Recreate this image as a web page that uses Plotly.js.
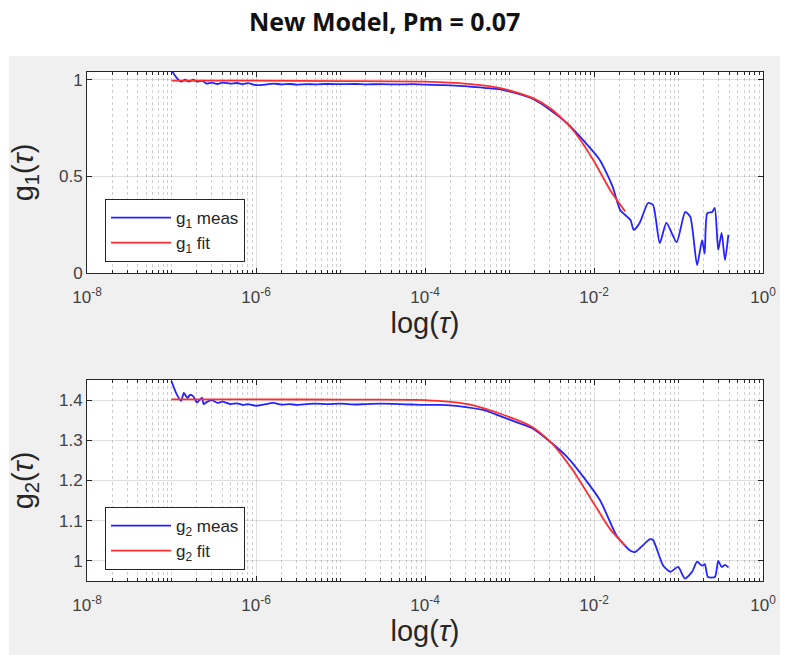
<!DOCTYPE html>
<html>
<head>
<meta charset="utf-8">
<script src="https://cdn.plot.ly/plotly-3.0.1.min.js"></script>
<style>html,body{margin:0;padding:0;background:#fff;}#chart{width:785px;height:655px;}</style>
</head>
<body>
<div id="chart"></div>
<script>
// ---- data ----
var tauMeas1 = [1.0e-7,1.15e-7,1.3e-7,1.45e-7,1.6e-7,1.8e-7,2.0e-7,2.3e-7,2.6e-7,3.0e-7,3.5e-7,4.0e-7,5e-7,6e-7,7e-7,8e-7,1e-6,1.3e-6,1.6e-6,2e-6,2.5e-6,3e-6,4e-6,5e-6,7e-6,1e-5,1.5e-5,2e-5,3e-5,5e-5,7e-5,1e-4,1.5e-4,2e-4,3.2e-4,5e-4,7.8e-4,1.2e-3,1.9e-3,3e-3,4.8e-3,7e-3,1.17e-2,1.66e-2,2.04e-2,2.7e-2,2.95e-2,3.47e-2,4.37e-2,5e-2,6.0e-2,7.2e-2,9.5e-2,0.12,0.138,0.166,0.19,0.204,0.219,0.251,0.269,0.295,0.324,0.355,0.389];
var g1Meas = [1.05,1.01,0.99,1.0,0.99,1.0,0.99,0.995,0.98,0.985,0.978,0.985,0.98,0.983,0.977,0.982,0.972,0.975,0.98,0.976,0.978,0.975,0.977,0.976,0.978,0.977,0.978,0.976,0.977,0.976,0.977,0.975,0.972,0.971,0.966,0.958,0.95,0.93,0.9,0.845,0.775,0.7,0.585,0.447,0.326,0.274,0.223,0.259,0.362,0.352,0.155,0.259,0.16,0.316,0.29,0.04,0.17,0.10,0.31,0.316,0.337,0.12,0.207,0.067,0.197];

var tauFit = [1e-7,1e-6,1e-5,1e-4,3.2e-4,7.8e-4,1.9e-3,3.2e-3,5.6e-3,9.8e-3,1.55e-2,2.34e-2];
var g1Fit = [0.995,0.995,0.993,0.99,0.979,0.957,0.905,0.845,0.741,0.585,0.43,0.318];

var tauMeas2 = [1.0e-7,1.15e-7,1.3e-7,1.4e-7,1.55e-7,1.65e-7,1.8e-7,2.0e-7,2.3e-7,2.4e-7,2.6e-7,3e-7,3.5e-7,4e-7,5e-7,6e-7,7e-7,8e-7,1e-6,1.3e-6,1.6e-6,2e-6,2.5e-6,3e-6,4e-6,5e-6,7e-6,1e-5,1.5e-5,2e-5,3e-5,5e-5,7e-5,1e-4,1.5e-4,2e-4,3.2e-4,5e-4,7.8e-4,1.2e-3,1.9e-3,4.8e-3,1.17e-2,1.86e-2,2.7e-2,3.05e-2,4.6e-2,5e-2,6.6e-2,8.0e-2,9.9e-2,0.119,0.145,0.166,0.19,0.205,0.223,0.27,0.295,0.324,0.355,0.39];
var g2Meas = [1.447,1.415,1.398,1.418,1.405,1.413,1.41,1.394,1.406,1.39,1.395,1.40,1.393,1.396,1.39,1.392,1.388,1.39,1.386,1.39,1.393,1.389,1.39,1.388,1.39,1.391,1.39,1.391,1.389,1.39,1.391,1.39,1.389,1.388,1.388,1.387,1.382,1.375,1.36,1.345,1.329,1.259,1.152,1.062,1.025,1.022,1.054,1.052,0.988,0.973,0.985,0.956,0.973,0.998,0.988,0.992,0.96,0.96,1.0,0.985,0.99,0.984];

var g2Fit = [1.402,1.402,1.401,1.40,1.39,1.366,1.332,1.292,1.226,1.145,1.079,1.038];

var xTickVals = [1e-8,1e-6,1e-4,1e-2,1];
var xTickText = ['10<sup>-8</sup>','10<sup>-6</sup>','10<sup>-4</sup>','10<sup>-2</sup>','10<sup>0</sup>'];
var y1TickVals = [0,0.5,1];
var y1TickText = ['0','0.5','1'];
var y2TickVals = [1,1.1,1.2,1.3,1.4];
var y2TickText = ['1','1.1','1.2','1.3','1.4'];

// ---- styling ----
var BLUE = 'rgb(35,35,255)';
var RED = 'rgb(255,45,45)';
var minorVals = [];
for (var e = -8; e < 0; e++) {
  for (var m = 1; m <= 9; m++) {
    var v = m * Math.pow(10, e);
    if (m === 1 && (e % 2 === 0)) continue;
    minorVals.push(v);
  }
}
var FONT = 'Liberation Sans, Arial, sans-serif';

var axisCommon = {
  showline: true, linecolor: '#262626', linewidth: 1, mirror: 'ticks',
  ticks: 'inside', ticklen: 5, tickcolor: '#262626',
  gridcolor: 'rgba(38,38,38,0.15)', gridwidth: 1,
  zeroline: false,
  tickfont: {family: FONT, size: 17, color: '#404040'}
};

function xAxis(anchor) {
  return Object.assign({}, axisCommon, {
    type: 'log', range: [-8, 0], anchor: anchor,
    tickmode: 'array', tickvals: xTickVals, ticktext: xTickText,
    ticklabelstandoff: 9,
    minor: {tickmode: 'array', tickvals: minorVals, ticks: 'inside', ticklen: 3, tickcolor: '#262626',
            showgrid: true, griddash: 'dot', gridcolor: 'rgba(38,38,38,0.22)', gridwidth: 1},
    title: {text: 'log(<i>τ</i>)', font: {family: FONT, size: 29, color: '#262626'}, standoff: 0}
  });
}

var traces = [
  {x: tauMeas1, y: g1Meas, xaxis: 'x', yaxis: 'y', mode: 'lines', name: 'g<sub>1</sub> meas',
   line: {color: BLUE, width: 1.8, shape: 'spline', smoothing: 0.6}, legend: 'legend'},
  {x: tauFit, y: g1Fit, xaxis: 'x', yaxis: 'y', mode: 'lines', name: 'g<sub>1</sub> fit',
   line: {color: RED, width: 1.8, shape: 'spline', smoothing: 0.6}, legend: 'legend'},
  {x: tauMeas2, y: g2Meas, xaxis: 'x2', yaxis: 'y2', mode: 'lines', name: 'g<sub>2</sub> meas',
   line: {color: BLUE, width: 1.8, shape: 'spline', smoothing: 0.6}, legend: 'legend2'},
  {x: tauFit, y: g2Fit, xaxis: 'x2', yaxis: 'y2', mode: 'lines', name: 'g<sub>2</sub> fit',
   line: {color: RED, width: 1.8, shape: 'spline', smoothing: 0.6}, legend: 'legend2'}
];

var legendCommon = {
  bgcolor: 'white', bordercolor: '#262626', borderwidth: 1,
  font: {family: FONT, size: 17, color: '#262626'},
  xref: 'paper', yref: 'paper', xanchor: 'left', yanchor: 'bottom',
  itemwidth: 60, tracegroupgap: 0
};

var layout = {
  width: 785, height: 655,
  margin: {l: 87, r: 22, t: 72, b: 74},
  paper_bgcolor: 'white', plot_bgcolor: 'rgba(0,0,0,0)',
  showlegend: true,
  title: {text: '<b>New Model, Pm = 0.07</b>', x: 0.49, xref: 'container', xanchor: 'center',
          y: 0.966, yref: 'container', yanchor: 'middle',
          font: {family: 'Open Sans, sans-serif', size: 25, color: '#111'}},
  xaxis: xAxis('y'),
  xaxis2: xAxis('y2'),
  yaxis: Object.assign({}, axisCommon, {domain: [0.6051, 1], range: [0, 1.04], anchor: 'x',
    tickmode: 'array', tickvals: y1TickVals, ticktext: y1TickText,
    title: {text: 'g<sub>1</sub>(<i>τ</i>)', font: {family: FONT, size: 29, color: '#262626'}, standoff: 16}}),
  yaxis2: Object.assign({}, axisCommon, {domain: [0, 0.3949], range: [0.95, 1.45], anchor: 'x2',
    tickmode: 'array', tickvals: y2TickVals, ticktext: y2TickText,
    title: {text: 'g<sub>2</sub>(<i>τ</i>)', font: {family: FONT, size: 29, color: '#262626'}, standoff: 16}}),
  legend: Object.assign({}, legendCommon, {x: 0.0266, y: 0.6267}),
  legend2: Object.assign({}, legendCommon, {x: 0.0266, y: 0.0216}),
  shapes: [
    {type: 'rect', xref: 'paper', yref: 'paper', x0: -0.1154, x1: 1.0251, y0: -0.1454, y1: 1.0314,
     fillcolor: '#f0f0f0', line: {width: 0}, layer: 'below'},
    {type: 'rect', xref: 'x domain', yref: 'y domain', x0: 0, x1: 1, y0: 0, y1: 1,
     fillcolor: 'white', line: {width: 0}, layer: 'below'},
    {type: 'rect', xref: 'x2 domain', yref: 'y2 domain', x0: 0, x1: 1, y0: 0, y1: 1,
     fillcolor: 'white', line: {width: 0}, layer: 'below'}
  ]
};

Plotly.newPlot('chart', traces, layout, {displayModeBar: false, staticPlot: true});
</script>
</body>
</html>
